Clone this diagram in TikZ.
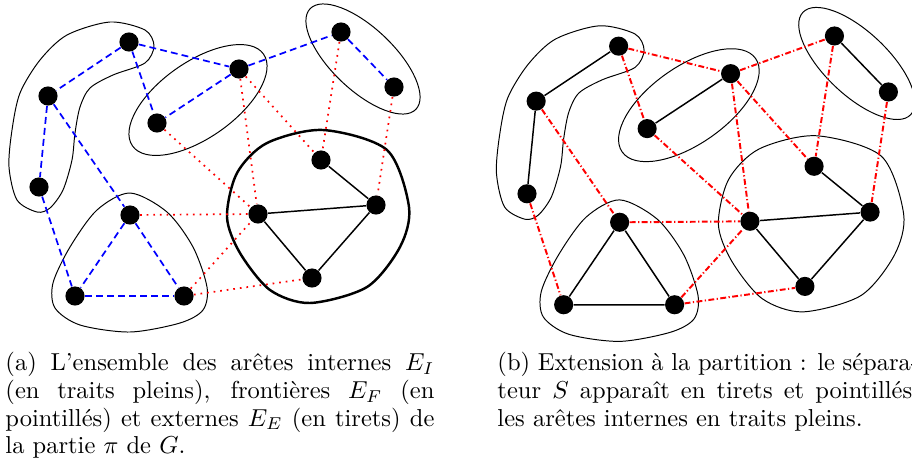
\documentclass[tikz,border=0pt]{standalone}
\begin{document}
\begin{tikzpicture}[x=0.408pt,y=-0.408pt,
	vertex/.style={circle,fill=black,inner sep=0pt,minimum size=7.8pt},
	internal/.style={line width=0.6pt},
	external/.style={blue,line width=0.7pt,dash pattern=on 2.8pt off 1.7pt},
	frontier/.style={red,line width=0.7pt,dotted},
	separator/.style={red,line width=0.8pt,dash pattern=on 2.4pt off 1pt on 0.5pt off 1pt},
	part/.style={line width=0.4pt},
	caption/.style={anchor=north west,inner sep=0pt,text width=175pt,align=justify,
		font=\fontsize{10pt}{11.3pt}\selectfont}]
	\useasboundingbox (0,0) rectangle (912,472);

	% (a) partie pi et ses aretes
	\begin{scope}
		\draw[part] plot[smooth cycle] coordinates {(67,35) (110,22) (145,30) (154,46) (145,63) (113,75) (90,88) (80,107) (75,133) (72,160) (63,190) (50,208) (37,212) (17,200) (9,167) (12,130) (20,93) (40,60)};
		\draw[part,rotate around={35:(198,100)}] (198,100) ellipse [x radius=80,y radius=38];
		\draw[part,rotate around={-43.5:(363,59)}] (363,59) ellipse [x radius=73,y radius=31];
		\draw[part] plot[smooth cycle] coordinates {(130,193) (167,212) (193,247) (207,287) (203,310) (180,323) (130,332) (80,325) (55,308) (53,283) (70,247) (97,210)};
		\draw[line width=1pt] plot[smooth cycle] coordinates {(323,130) (387,150) (409,207) (400,247) (367,287) (310,303) (270,290) (240,253) (227,217) (237,173) (267,143)};

		\foreach \n/\p in {a1/{129,42},a2/{48,96},a3/{39,187},b1/{239,69},b2/{157,123},c1/{341,32},c2/{394,87},d1/{130,215},d2/{75,296},d3/{184,296},e1/{321,160},e2/{258,214},e3/{376,205},e4/{312,278}}
			\node[vertex] (\n) at (\p) {};

		\foreach \u/\v in {e1/e3,e2/e3,e2/e4,e3/e4}
			\draw[internal] (\u) -- (\v);
		\foreach \u/\v in {a1/a2,a2/a3,a1/b1,a1/b2,a2/d1,a3/d2,b1/b2,b1/c1,c1/c2,d1/d2,d1/d3,d2/d3}
			\draw[external] (\u) -- (\v);
		\foreach \u/\v in {b1/e2,b1/e1,b2/e2,c1/e1,c2/e3,d1/e2,d3/e2,d3/e4}
			\draw[frontier] (\u) -- (\v);
	\end{scope}

	% (b) extension a la partition
	\begin{scope}[shift={(487.3,3.4)},scale=1.018]
		\draw[part] plot[smooth cycle] coordinates {(67,35) (110,22) (145,30) (154,46) (145,63) (113,75) (90,88) (80,107) (75,133) (72,160) (63,190) (50,208) (37,212) (17,200) (9,167) (12,130) (20,93) (40,60)};
		\draw[part,rotate around={35:(198,100)}] (198,100) ellipse [x radius=80,y radius=38];
		\draw[part,rotate around={-43.5:(363,59)}] (363,59) ellipse [x radius=73,y radius=31];
		\draw[part] plot[smooth cycle] coordinates {(130,193) (167,212) (193,247) (207,287) (203,310) (180,323) (130,332) (80,325) (55,308) (53,283) (70,247) (97,210)};
		\draw[part] plot[smooth cycle] coordinates {(323,130) (387,150) (409,207) (400,247) (367,287) (310,303) (270,290) (240,253) (227,217) (237,173) (267,143)};

		\foreach \n/\p in {a1/{129,42},a2/{48,96},a3/{39,187},b1/{239,69},b2/{157,123},c1/{341,32},c2/{394,87},d1/{130,215},d2/{75,296},d3/{184,296},e1/{321,160},e2/{258,214},e3/{376,205},e4/{312,278}}
			\node[vertex] (r\n) at (\p) {};

		\foreach \u/\v in {a1/a2,a2/a3,b1/b2,c1/c2,d1/d2,d1/d3,d2/d3,e1/e3,e2/e3,e2/e4,e3/e4}
			\draw[internal] (r\u) -- (r\v);
		\foreach \u/\v in {a1/b1,a1/b2,a2/d1,a3/d2,b1/c1,b1/e2,b1/e1,b2/e2,c1/e1,c2/e3,d1/e2,d3/e2,d3/e4}
			\draw[separator] (r\u) -- (r\v);
	\end{scope}

	\node[caption] (capa) at (5,352) {(a) L'ensemble des arêtes internes $E_I$\linebreak
		(en traits pleins), frontières $E_F$ (en\linebreak
		pointillés) et externes $E_E$ (en tirets) de\linebreak
		la partie $\pi$ de $G$.};
	\node[caption,text width=172pt] (capb) at (497,352) {(b) Extension à la partition~: le sépara-\linebreak
		teur $S$ apparaît en tirets et pointillés,\linebreak
		les arêtes internes en traits pleins.};
\end{tikzpicture}
\end{document}
